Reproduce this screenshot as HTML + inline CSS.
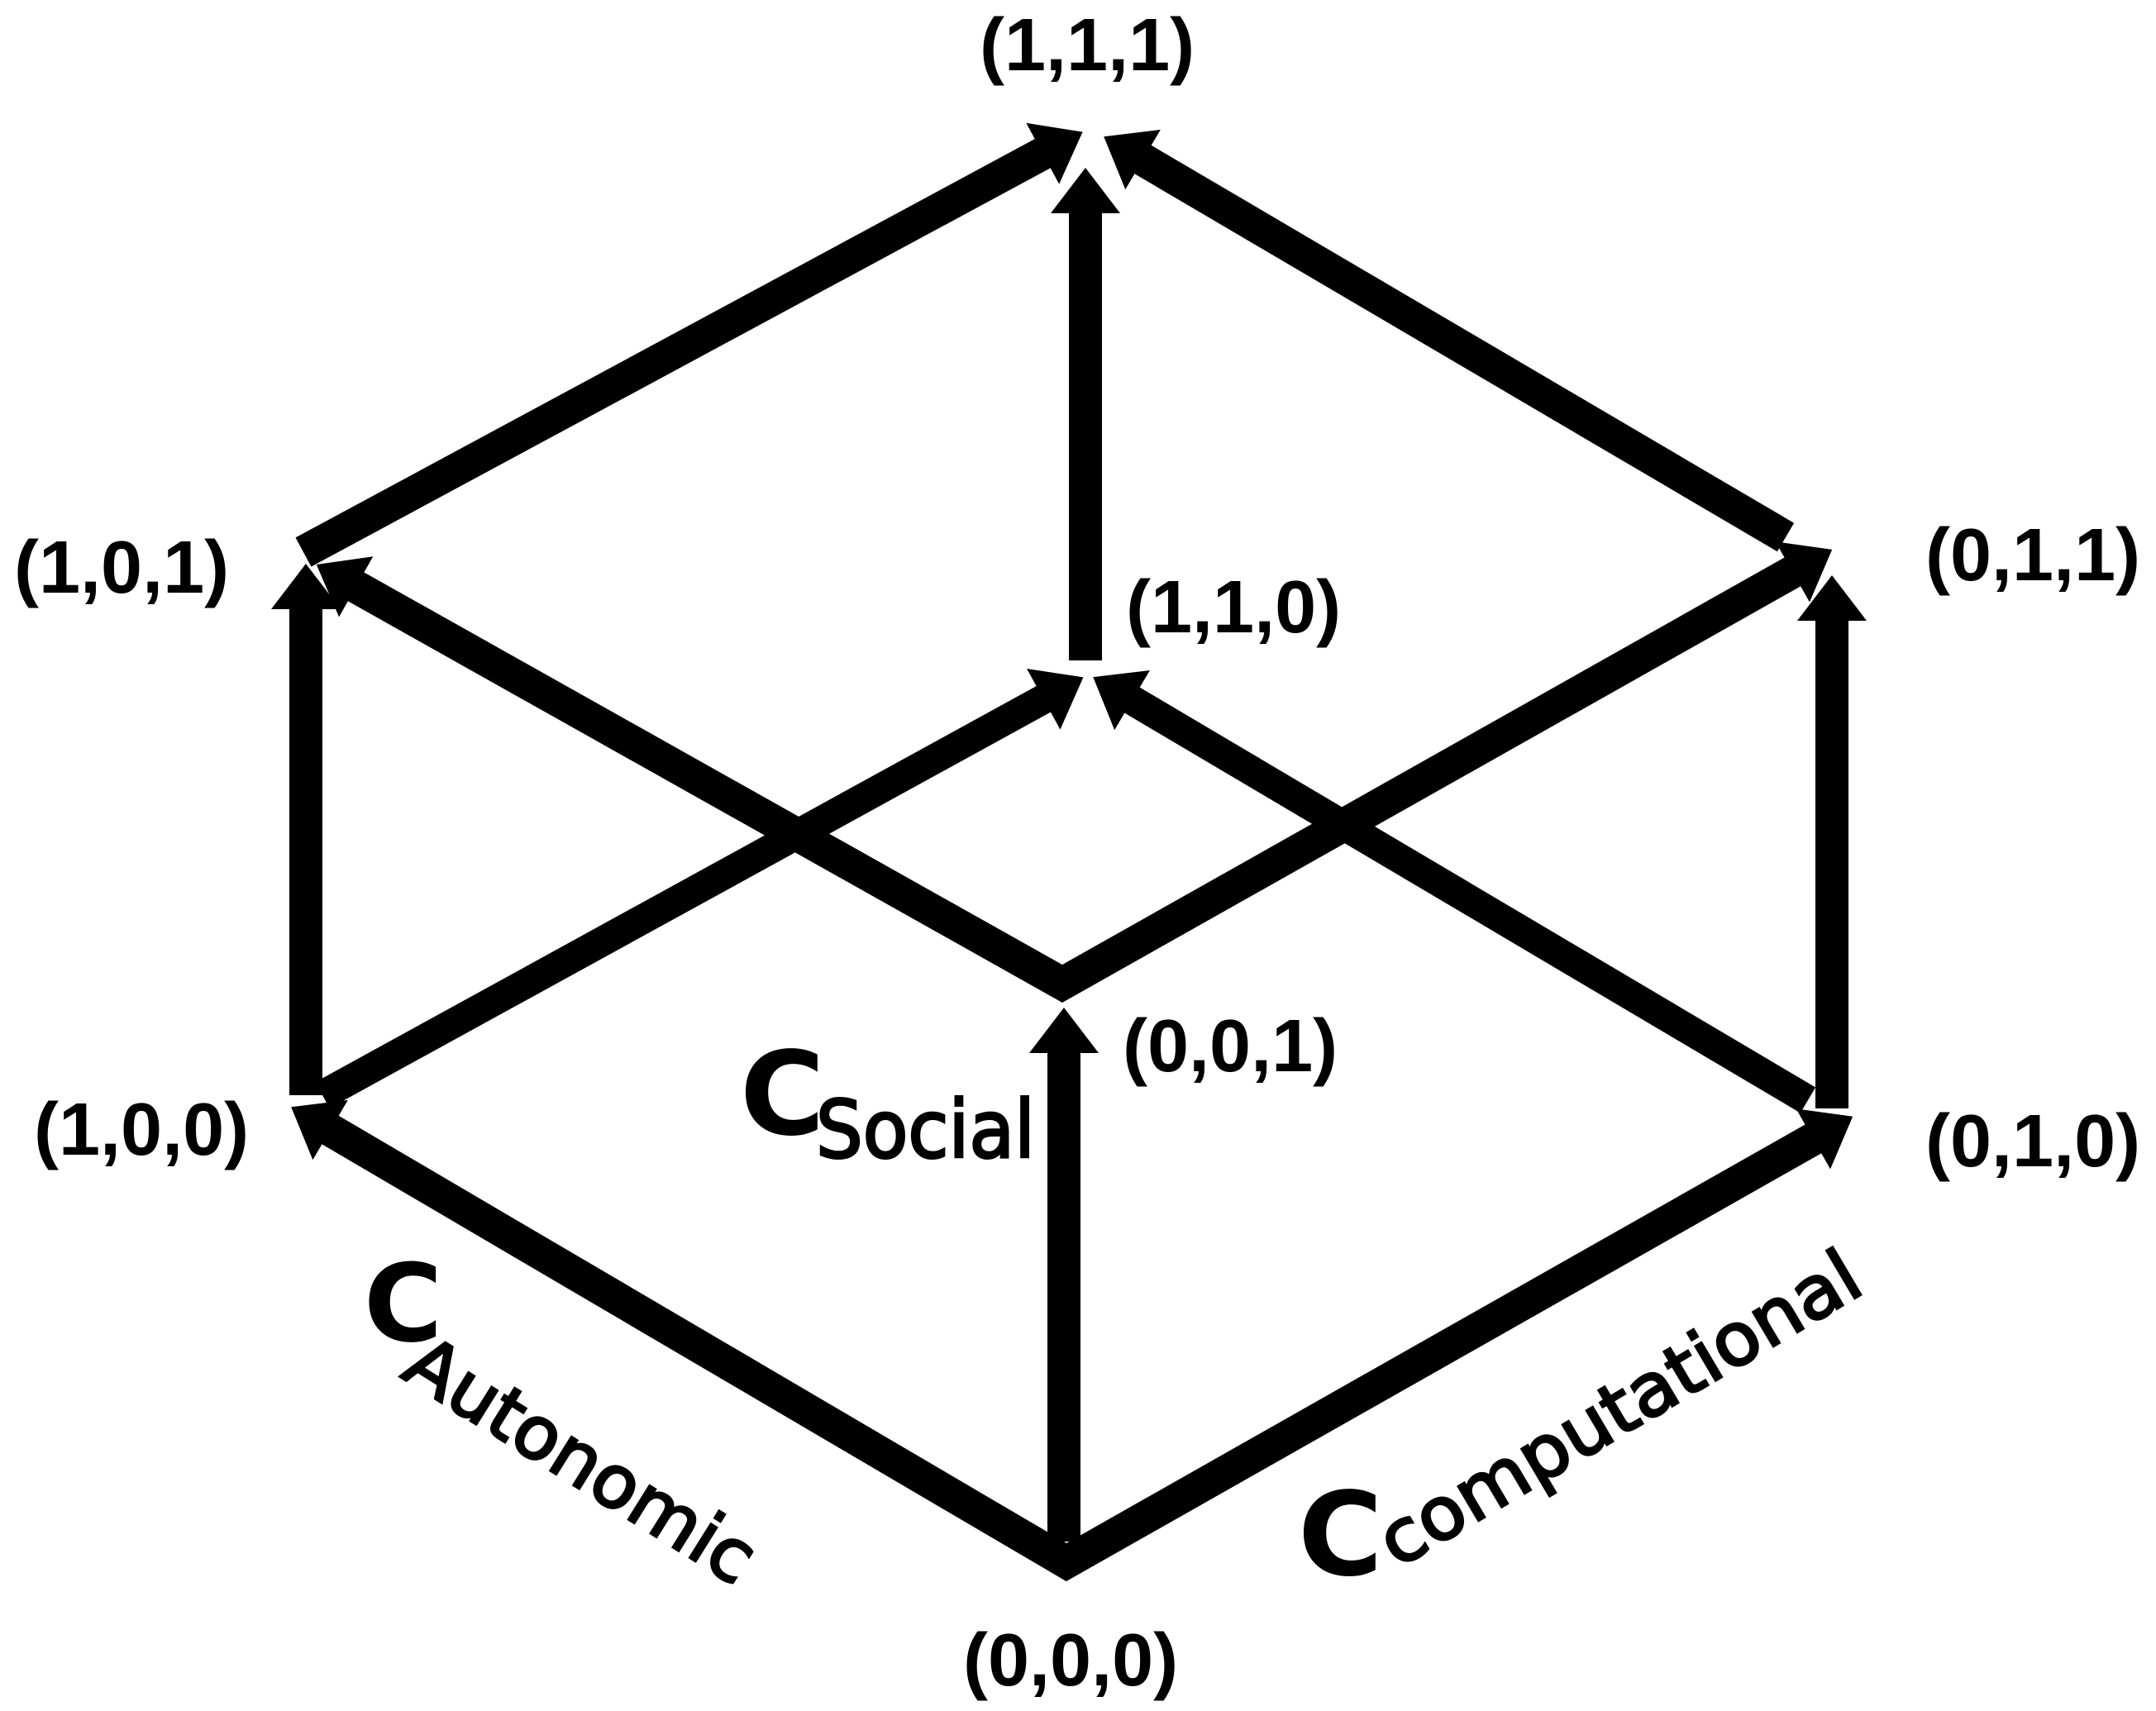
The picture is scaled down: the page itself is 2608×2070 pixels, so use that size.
<!DOCTYPE html>
<html><head><meta charset="utf-8"><style>
html,body{margin:0;padding:0;background:#fff;}
svg{display:block;}
.lb{font-family:"Liberation Sans",Arial,sans-serif;font-weight:bold;font-size:90px;fill:#000;}
.hw{font-family:"DejaVu Sans","Liberation Sans",sans-serif;fill:#000;}
.hb{font-weight:bold;}
</style></head><body>
<svg width="2608" height="2070" viewBox="0 0 2608 2070" xmlns="http://www.w3.org/2000/svg">
<defs>
<marker id="ah" markerUnits="userSpaceOnUse" markerWidth="70" markerHeight="100" refX="10" refY="45" orient="auto-start-reverse">
<path d="M0,3 L55,45 L0,87 Z" fill="#000"/>
</marker>
</defs>
<g stroke="#000" fill="none" stroke-width="40" stroke-linecap="butt" stroke-linejoin="miter">
<line x1="367" y1="668" x2="1270" y2="181" marker-end="url(#ah)"/>
<line x1="2160" y1="650" x2="1374" y2="188" marker-end="url(#ah)"/>
<line x1="1313" y1="799" x2="1313" y2="248" marker-end="url(#ah)"/>
<line x1="370" y1="1325" x2="370" y2="727" marker-end="url(#ah)"/>
<line x1="2216" y1="1341" x2="2216" y2="741" marker-end="url(#ah)"/>
<line x1="1287" y1="1865" x2="1287" y2="1264" marker-end="url(#ah)"/>
<polyline points="391,1362 1290,1890 2202,1373" marker-start="url(#ah)" marker-end="url(#ah)"/>
<polyline points="422,705 1285,1190 2177,687" marker-start="url(#ah)" marker-end="url(#ah)"/>
<line x1="390" y1="1325" x2="1271" y2="841" stroke-width="36" marker-end="url(#ah)"/>
<line x1="2187" y1="1331" x2="1361" y2="842" stroke-width="36" marker-end="url(#ah)"/>
</g>
<text class="lb" x="1185" y="85">(1,1,1)</text>
<text class="lb" x="17" y="717">(1,0,1)</text>
<text class="lb" x="1362" y="765">(1,1,0)</text>
<text class="lb" x="2329" y="702">(0,1,1)</text>
<text class="lb" x="1358" y="1296">(0,0,1)</text>
<text class="lb" x="41" y="1397">(1,0,0)</text>
<text class="lb" x="2329" y="1411">(0,1,0)</text>
<text class="lb" x="1165" y="2039">(0,0,0)</text>

<text class="hw hb" x="895" y="1372" font-size="140">C</text>
<text class="hw" x="987" y="1400" font-size="96" textLength="265" lengthAdjust="spacingAndGlyphs" stroke="#000" stroke-width="3">Social</text>

<text class="hw hb" x="440" y="1622" font-size="130">C</text>
<text class="hw" x="483" y="1665" font-size="88" textLength="480" lengthAdjust="spacingAndGlyphs" stroke="#000" stroke-width="3" transform="rotate(32 483 1665)">Autonomic</text>

<text class="hw hb" x="1570" y="1905" font-size="140">C</text>
<text class="hw" x="1690" y="1898" font-size="88" textLength="660" lengthAdjust="spacingAndGlyphs" stroke="#000" stroke-width="3" transform="rotate(-30.6 1690 1898)">computational</text>
</svg>
</body></html>
